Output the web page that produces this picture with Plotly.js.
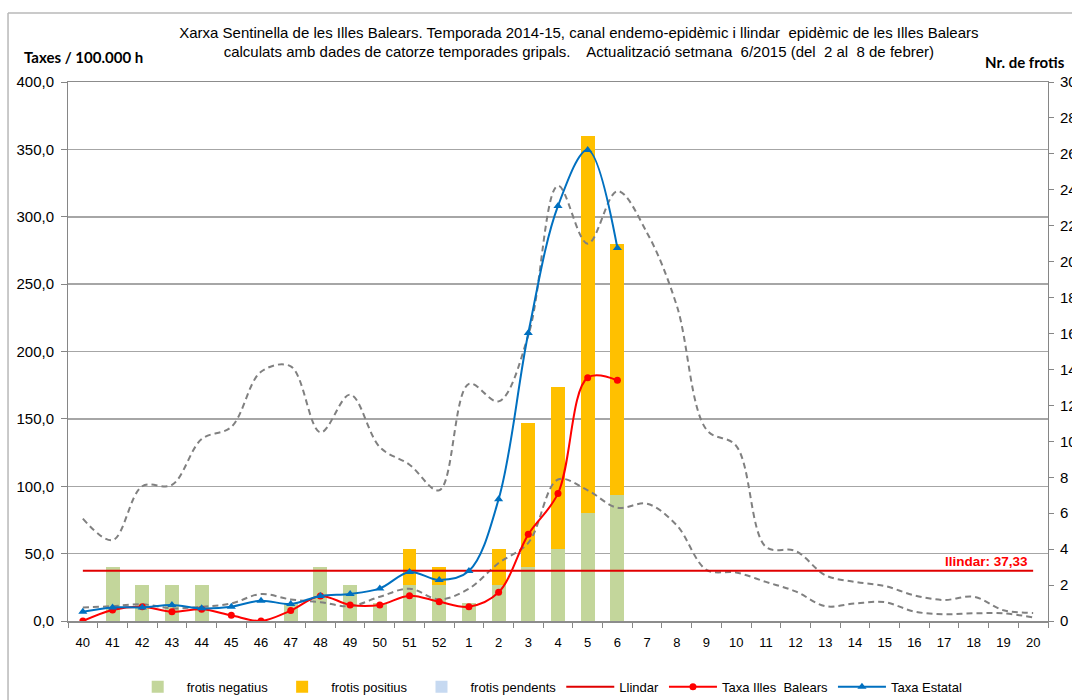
<!DOCTYPE html>
<html>
<head>
<meta charset="utf-8">
<script src="https://cdn.plot.ly/plotly-3.0.1.min.js"></script>
<style>html,body{margin:0;padding:0;background:#fff;}#chart{width:1072px;height:700px;}</style>
</head>
<body>
<div id="chart"></div>
<script>
var weeks = ['40','41','42','43','44','45','46','47','48','49','50','51','52','1','2','3','4','5','6','7','8','9','10','11','12','13','14','15','16','17','18','19','20'];
var frotisNegatius = [0,3,2,2,2,0,0,1,3,2,1,2,2,1,2,3,4,6,7,0,0,0,0,0,0,0,0,0,0,0,0,0,0];
var frotisPositius = [0,0,0,0,0,0,0,0,0,0,0,2,1,0,2,8,9,21,14,0,0,0,0,0,0,0,0,0,0,0,0,0,0];
var frotisPendents = [0,0,0,0,0,0,0,0,0,0,0,0,0,0,0,0,0,0,0,0,0,0,0,0,0,0,0,0,0,0,0,0,0];
var llindarValue = 37.33;
var llindar = weeks.map(function(){ return llindarValue; });
var canalSuperior = [76,60,100,101,135,144,185,189,140,168,129,116,97,176,163,212,323,280,319,288,234,142,130,55,52,34,29,26,19,15.6,18,8,6];
var canalInferior = [10,11,12.4,9.4,10.6,13,20,16,14,11,18,24,16,24,43,58,105,97,84,87,71,38,36,29,22,11,13,14,7,5,5.7,5.7,2.7];
var weeksActual = weeks.slice(0,19);
var taxaIllesBalears = [0,8.2,10.6,6.9,8.7,4.2,0,7.7,18.6,11.9,11.9,18.8,14.3,10.6,21.3,64.3,94.7,180.6,178.6];
var taxaEstatal = [6.9,10.1,10.1,11.9,9.4,10.6,15.1,12.6,18.6,20,24.2,36.4,30.4,37.1,90.3,213.7,308,349.6,276.8];

var FONT = 'Liberation Sans, Arial, sans-serif';
var BOLDFONT = 'Lato, Open Sans, sans-serif';

var traces = [
  {type:'bar', name:'frotis negatius', x:weeks, y:frotisNegatius, yaxis:'y', marker:{color:'#c3d69b'}},
  {type:'bar', name:'frotis positius', x:weeks, y:frotisPositius, yaxis:'y', marker:{color:'#ffc000'}},
  {type:'bar', name:'frotis pendents', x:weeks, y:frotisPendents, yaxis:'y', marker:{color:'#c6d9f1'}},
  {type:'scatter', mode:'lines', name:'canal superior', x:weeks, y:canalSuperior, yaxis:'y2', showlegend:false,
   line:{color:'#808080', width:2, dash:'6px,4px', shape:'spline', smoothing:1}},
  {type:'scatter', mode:'lines', name:'canal inferior', x:weeks, y:canalInferior, yaxis:'y2', showlegend:false,
   line:{color:'#808080', width:2, dash:'6px,4px', shape:'spline', smoothing:1}},
  {type:'scatter', mode:'lines', name:'Llindar', x:weeks, y:llindar, yaxis:'y2',
   line:{color:'#e00000', width:2}},
  {type:'scatter', mode:'lines+markers', name:'Taxa Illes  Balears', x:weeksActual, y:taxaIllesBalears, yaxis:'y2',
   line:{color:'#ff0000', width:2, shape:'spline', smoothing:1}, marker:{symbol:'circle', size:7, color:'#ff0000'}},
  {type:'scatter', mode:'lines+markers', name:'Taxa Estatal', x:weeksActual, y:taxaEstatal, yaxis:'y2',
   line:{color:'#0070c0', width:2, shape:'spline', smoothing:1}, marker:{symbol:'triangle-up', size:8, color:'#0070c0'}}
];

var layout = {
  width:1072, height:700,
  paper_bgcolor:'#ffffff', plot_bgcolor:'rgba(0,0,0,0)',
  separators:',.',
  font:{family:FONT, size:12, color:'#000'},
  margin:{l:68, r:24, t:82, b:79, pad:0},
  barmode:'stack', bargap:0.53,
  showlegend:true,
  title:{text:'Xarxa Sentinella de les Illes Balears. Temporada 2014-15, canal endemo-epidèmic i llindar  epidèmic de les Illes Balears<br>calculats amb dades de catorze temporades gripals.    Actualització setmana  6/2015 (del  2 al  8 de febrer)',
         font:{family:FONT, size:15, color:'#000'}, x:0.54, xanchor:'center', y:0.946, yanchor:'top'},
  xaxis:{type:'category', categoryorder:'array', categoryarray:weeks, range:[-0.5,32.5],
         showline:true, mirror:true, linecolor:'#8c8c8c', linewidth:1.5, showgrid:false, zeroline:false,
         ticks:'outside', tickson:'boundaries', ticklen:5, tickcolor:'#868686',
         ticklabelstandoff:9,
         tickfont:{family:FONT, size:13, color:'#000'}, fixedrange:true},
  yaxis:{side:'right', range:[0,30], dtick:2, tick0:0, showgrid:false, zeroline:false,
         showline:true, linecolor:'#868686', linewidth:1, ticks:'outside', ticklen:5, tickcolor:'#868686',
         ticklabelstandoff:3,
         tickfont:{family:FONT, size:15, color:'#000'}},
  yaxis2:{overlaying:'y', side:'left', range:[0,400], dtick:50, tick0:0, tickformat:'.1f',
          showgrid:true, gridcolor:'#a6a6a6', gridwidth:1.5, zeroline:false,
          showline:true, linecolor:'#868686', linewidth:1, ticks:'outside', ticklen:6, tickcolor:'#868686',
          ticklabelstandoff:4,
          tickfont:{family:FONT, size:15, color:'#000'}},
  legend:{orientation:'h', x:0.49, xanchor:'center', yref:'container', y:0.019, yanchor:'middle',
          font:{family:FONT, size:13, color:'#000'}, traceorder:'normal', itemwidth:48},
  annotations:[
    {xref:'paper', yref:'paper', x:-0.047, y:1.046, xanchor:'left', yanchor:'middle', showarrow:false,
     text:'<b>Taxes / 100.000 h</b>', font:{family:BOLDFONT, size:15, color:'#000'}},
    {xref:'paper', yref:'paper', x:0.934, y:1.037, xanchor:'left', yanchor:'middle', showarrow:false,
     text:'<b>Nr. de frotis</b>', font:{family:BOLDFONT, size:15, color:'#000'}},
    {xref:'x', yref:'y2', x:weeks.length-1, y:llindarValue, xanchor:'right', yanchor:'bottom', showarrow:false, yshift:0, xshift:-3,
     text:'<b>llindar: 37,33</b>', font:{family:FONT, size:13.5, color:'#ff0000'}}
  ],
  shapes:[
    {type:'line', xref:'paper', yref:'paper', x0:-0.0612, x1:-0.0612, y0:-0.3, y1:1.128, line:{color:'#b8b8b8', width:1.5}},
    {type:'line', xref:'paper', yref:'paper', x0:-0.0612, x1:1.2, y0:1.128, y1:1.128, line:{color:'#b8b8b8', width:1.5}}
  ]
};

Plotly.newPlot('chart', traces, layout, {displayModeBar:false, staticPlot:true});
</script>
</body>
</html>
